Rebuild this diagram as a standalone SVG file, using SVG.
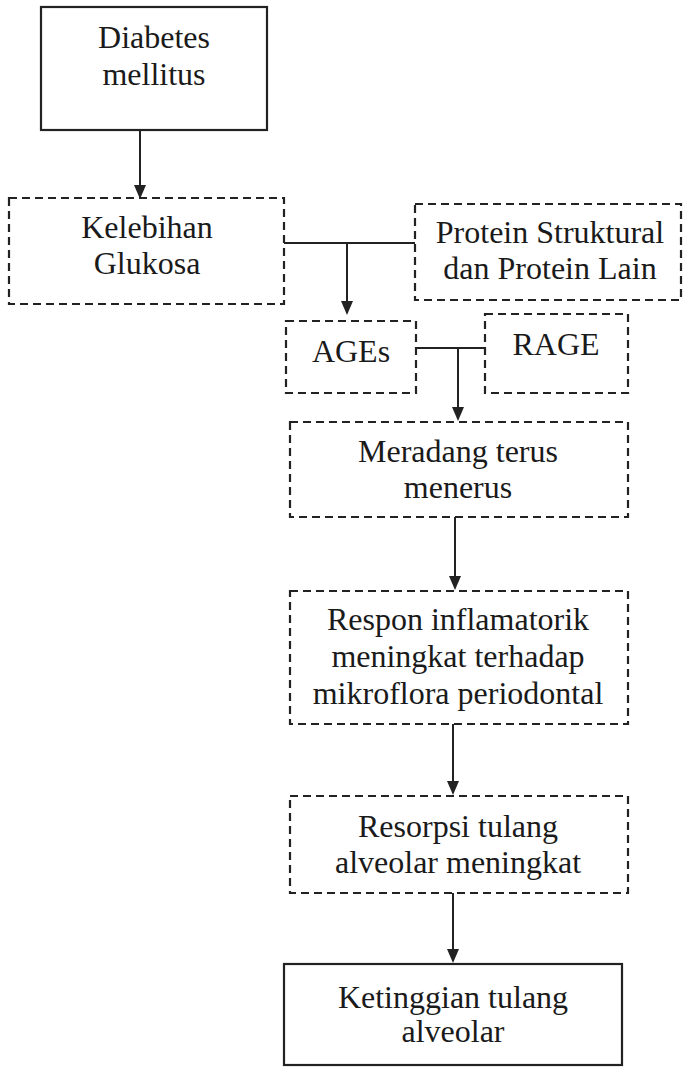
<svg xmlns="http://www.w3.org/2000/svg" width="683" height="1068" viewBox="0 0 683 1068">
<style>
.solid{fill:none;stroke:#222;stroke-width:2.2}
.dash{fill:none;stroke:#222;stroke-width:2.2;stroke-dasharray:8 5}
.ln{fill:none;stroke:#222;stroke-width:2}
.ah{fill:#222}
text{font-family:"Liberation Serif","Times New Roman",serif;font-size:32px;fill:#1a1a1a;text-anchor:middle}
</style>
<rect width="683" height="1068" fill="#fff"/>
<g id="connectors">
<line class="ln" x1="140" y1="130" x2="140" y2="190"/>
<line class="ln" x1="284" y1="243" x2="415" y2="243"/>
<line class="ln" x1="347" y1="243" x2="347" y2="305"/>
<line class="ln" x1="416" y1="348" x2="485" y2="348"/>
<line class="ln" x1="458" y1="348" x2="458" y2="410"/>
<line class="ln" x1="455" y1="517" x2="455" y2="580"/>
<line class="ln" x1="453" y1="724" x2="453" y2="785"/>
<line class="ln" x1="453" y1="893" x2="453" y2="952"/>
<path class="ah" d="M134,185 L146,185 L140,199 Z"/>
<path class="ah" d="M341,301 L353,301 L347,315 Z"/>
<path class="ah" d="M452,407 L464,407 L458,421 Z"/>
<path class="ah" d="M449,576 L461,576 L455,590 Z"/>
<path class="ah" d="M447,781 L459,781 L453,795 Z"/>
<path class="ah" d="M447,949 L459,949 L453,963 Z"/>
</g>
<g id="diabetes">
<rect class="solid" x="41" y="7" width="226" height="123"/>
<text x="154" y="48">Diabetes</text>
<text x="154" y="85">mellitus</text>
</g>
<g id="kelebihan">
<rect class="dash" x="9" y="198" width="275" height="106"/>
<text x="147" y="238">Kelebihan</text>
<text x="147" y="274">Glukosa</text>
</g>
<g id="protein">
<rect class="dash" x="415" y="204" width="266" height="96"/>
<text x="550" y="243">Protein Struktural</text>
<text x="550" y="279">dan Protein Lain</text>
</g>
<g id="ages">
<rect class="dash" x="286" y="321" width="130" height="72"/>
<text x="351" y="362">AGEs</text>
</g>
<g id="rage">
<rect class="dash" x="485" y="314" width="143" height="79"/>
<text x="556" y="355">RAGE</text>
</g>
<g id="meradang">
<rect class="dash" x="290" y="422" width="338" height="95"/>
<text x="458" y="462">Meradang terus</text>
<text x="458" y="498">menerus</text>
</g>
<g id="respon">
<rect class="dash" x="290" y="591" width="338" height="133"/>
<text x="458" y="630">Respon inflamatorik</text>
<text x="458" y="667">meningkat terhadap</text>
<text x="458" y="704">mikroflora periodontal</text>
</g>
<g id="resorpsi">
<rect class="dash" x="290" y="796" width="338" height="97"/>
<text x="458" y="837">Resorpsi tulang</text>
<text x="458" y="873">alveolar meningkat</text>
</g>
<g id="ketinggian">
<rect class="solid" x="284" y="964" width="338" height="101"/>
<text x="453" y="1008">Ketinggian tulang</text>
<text x="453" y="1042">alveolar</text>
</g>
</svg>
